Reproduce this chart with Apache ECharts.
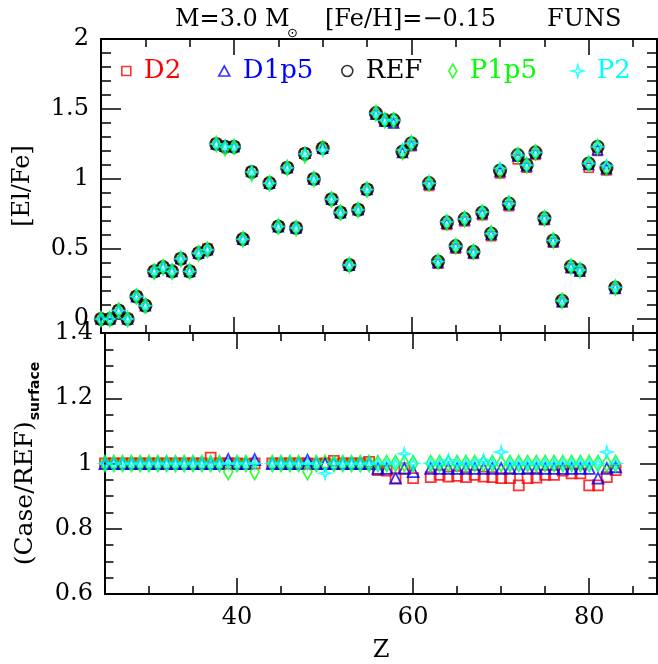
<!DOCTYPE html>
<html>
<head>
<meta charset="utf-8">
<script src="https://cdn.jsdelivr.net/npm/echarts@6/dist/echarts.min.js"></script>
<style>
  html, body { margin: 0; padding: 0; background: #fff; }
  #chart { width: 658px; height: 664px; }
</style>
</head>
<body>
<div id="chart"></div>
<script>
// Atomic numbers (Tc and Pm have no entries)
const Z = [25,26,27,28,29,30,31,32,33,34,35,36,37,38,39,40,41,42,
           44,45,46,47,48,49,50,51,52,53,54,55,56,57,58,59,60,
           62,63,64,65,66,67,68,69,70,71,72,73,74,75,76,77,78,79,80,81,82,83];

// [El/Fe] surface abundances, one array per model case
const elFeREF = [0.00,0.00,0.06,0.00,0.16,0.095,0.34,0.37,0.34,0.43,0.34,0.47,0.495,1.25,1.23,1.23,0.57,1.05,
                 0.97,0.66,1.08,0.65,1.18,1.00,1.22,0.855,0.76,0.385,0.78,0.925,1.47,1.42,1.42,1.195,1.255,
                 0.97,0.41,0.69,0.52,0.715,0.48,0.76,0.61,1.06,0.825,1.17,1.10,1.19,0.72,0.56,0.13,0.375,0.35,1.11,1.23,1.08,0.225];
const elFeD2  = [0.00,0.00,0.06,0.00,0.16,0.095,0.34,0.37,0.34,0.43,0.34,0.47,0.503,1.25,1.23,1.23,0.57,1.05,
                 0.97,0.66,1.08,0.65,1.18,1.00,1.22,0.855,0.76,0.385,0.78,0.927,1.46,1.41,1.40,1.189,1.235,
                 0.951,0.395,0.672,0.503,0.696,0.465,0.742,0.591,1.04,0.805,1.14,1.08,1.171,0.705,0.545,0.12,0.362,0.337,1.08,1.20,1.061,0.216];
const elFeD1p5 = [0.00,0.00,0.06,0.00,0.16,0.095,0.34,0.37,0.34,0.43,0.34,0.47,0.495,1.25,1.235,1.23,0.57,1.055,
                 0.97,0.66,1.08,0.65,1.184,1.00,1.22,0.855,0.76,0.385,0.78,0.925,1.464,1.414,1.40,1.189,1.244,
                 0.964,0.404,0.684,0.514,0.709,0.474,0.754,0.604,1.054,0.819,1.164,1.094,1.184,0.714,0.554,0.124,0.369,0.344,1.104,1.21,1.074,0.219];
const elFeP1p5 = [0.00,0.00,0.06,0.00,0.16,0.095,0.34,0.37,0.34,0.43,0.34,0.47,0.495,1.25,1.219,1.23,0.57,1.039,
                 0.97,0.66,1.08,0.65,1.169,1.00,1.22,0.855,0.76,0.385,0.78,0.925,1.47,1.42,1.42,1.195,1.255,
                 0.97,0.41,0.69,0.52,0.715,0.48,0.76,0.61,1.06,0.825,1.17,1.10,1.19,0.72,0.56,0.13,0.375,0.35,1.11,1.23,1.08,0.225];
const elFeP2  = [0.00,0.00,0.06,0.00,0.16,0.095,0.34,0.37,0.34,0.43,0.34,0.47,0.495,1.25,1.23,1.23,0.57,1.05,
                 0.97,0.66,1.08,0.65,1.18,1.00,1.207,0.855,0.76,0.385,0.78,0.925,1.47,1.42,1.42,1.208,1.255,
                 0.97,0.41,0.694,0.52,0.715,0.48,0.764,0.61,1.075,0.825,1.17,1.10,1.19,0.72,0.56,0.13,0.375,0.35,1.11,1.23,1.095,0.225];

// Case/REF surface ratios
const ratioD2  = [1.00,1.00,1.00,1.00,1.00,1.00,1.00,1.00,1.00,1.00,1.00,1.00,1.018,1.00,1.00,1.00,0.998,1.00,
                  1.00,1.00,1.00,1.00,1.00,0.998,1.00,1.008,1.00,1.00,1.00,1.005,0.98,0.978,0.955,0.985,0.955,
                  0.958,0.965,0.96,0.962,0.958,0.965,0.96,0.958,0.955,0.955,0.933,0.955,0.957,0.965,0.965,0.978,0.97,0.97,0.933,0.933,0.958,0.98];
const ratioD1p5 = [1.00,1.00,1.00,1.00,1.00,1.00,1.00,1.00,1.00,1.00,1.00,1.00,1.00,1.00,1.012,1.00,1.00,1.012,
                  1.00,1.00,1.00,1.00,1.01,1.00,1.00,1.00,1.00,1.00,1.00,1.00,0.985,0.985,0.955,0.985,0.975,
                  0.985,0.985,0.985,0.985,0.985,0.985,0.985,0.985,0.985,0.985,0.985,0.985,0.985,0.985,0.985,0.985,0.985,0.985,0.985,0.955,0.985,0.99];
const ratioP1p5 = [1.00,1.00,1.00,1.00,1.00,1.00,1.00,1.00,1.00,1.00,1.00,1.00,1.00,1.00,0.975,1.00,1.00,0.975,
                  1.00,1.00,1.00,1.00,0.975,1.00,1.00,1.00,1.00,1.00,1.00,1.00,1.00,1.00,1.00,1.00,1.00,
                  1.00,1.00,1.00,1.00,1.00,1.00,1.00,1.00,1.00,1.00,1.00,1.00,1.00,1.00,1.00,1.00,1.00,1.00,1.00,1.00,1.00,1.00];
const ratioP2  = [1.00,1.00,1.00,1.00,1.00,1.00,1.00,1.00,1.00,1.00,1.00,1.00,1.00,1.00,1.00,1.00,1.00,1.00,
                  1.00,1.00,1.00,1.00,1.00,1.00,0.97,1.00,1.00,1.00,1.00,1.00,1.00,1.00,1.00,1.03,1.00,
                  1.00,1.00,1.01,1.00,1.00,1.00,1.01,1.00,1.035,1.00,1.00,1.00,1.00,1.00,1.00,1.00,1.00,1.00,1.00,1.00,1.035,1.00];

// Tick values
const xMajorTicks = [40, 60, 80];
const xMinorTicks = [25, 30, 35, 45, 50, 55, 65, 70, 75, 85];
const topMajorTicks = [0, 0.5, 1, 1.5, 2];
const topMinorTicks = [-0.1,0.1,0.2,0.3,0.4,0.6,0.7,0.8,0.9,1.1,1.2,1.3,1.4,1.6,1.7,1.8,1.9];
const botMajorTicks = [0.6, 0.8, 1, 1.2, 1.4];
const botMinorTicks = [0.65,0.7,0.75,0.85,0.9,0.95,1.05,1.1,1.15,1.25,1.3,1.35];

const SERIF = "'DejaVu Serif', serif";
const STAR = 'path://M0,-10 L2.2,-2.2 L10,0 L2.2,2.2 L0,10 L-2.2,2.2 L-10,0 L-2.2,-2.2 Z';
const NARROW_DIAMOND = 'path://M0,-7 L4,0 L0,7 L-4,0 Z';

const cases = [
  { name: 'D2',   color: '#ff0000', symbol: 'rect',     sizeTop: 9,      sizeBot: 10,     bw: 1.6, top: elFeD2,   ratio: ratioD2,
    legendIcon: 'rect', legendW: 9, legendH: 9, legendLeft: 121 },
  { name: 'D1p5', color: '#0000ff', symbol: 'triangle', sizeTop: 10,     sizeBot: 11,     bw: 1.6, top: elFeD1p5, ratio: ratioD1p5,
    legendIcon: 'triangle', legendW: 11, legendH: 10, legendLeft: 218 },
  { name: 'REF',  color: '#000000', symbol: 'circle',   sizeTop: 12,     sizeBot: 12,     bw: 2.2, top: elFeREF,  ratio: null,
    legendIcon: 'circle', legendW: 11, legendH: 11, legendLeft: 341 },
  { name: 'P1p5', color: '#00ff00', symbol: 'diamond',  sizeTop: [8,15], sizeBot: [9,16], bw: 1.8, top: elFeP1p5, ratio: ratioP1p5,
    legendIcon: NARROW_DIAMOND, legendW: 8, legendH: 14, legendLeft: 448 },
  { name: 'P2',   color: '#00ffff', symbol: STAR,       sizeTop: 11,     sizeBot: 11,     bw: 1.6, top: elFeP2,   ratio: ratioP2,
    legendIcon: STAR, legendW: 12, legendH: 12, legendLeft: 571 }
];

const X_MIN = 25, X_MAX = 87.7;

function xAxisDef(grid, position, ticks, len, showLabel) {
  return {
    type: 'value', gridIndex: grid, position: position, min: X_MIN, max: X_MAX,
    axisLine: { show: true, onZero: false, lineStyle: { color: '#000', width: 2 } },
    axisTick: { show: true, inside: true, length: len, customValues: ticks, lineStyle: { color: '#000', width: 1.5 } },
    axisLabel: { show: showLabel, customValues: ticks, margin: 12, color: '#000', fontFamily: SERIF, fontSize: 24 },
    splitLine: { show: false }
  };
}
function yAxisDef(grid, position, min, max, ticks, len, showLabel) {
  return {
    type: 'value', gridIndex: grid, position: position, min: min, max: max,
    axisLine: { show: true, onZero: false, lineStyle: { color: '#000', width: 2 } },
    axisTick: { show: true, inside: true, length: len, customValues: ticks, lineStyle: { color: '#000', width: 1.5 } },
    axisLabel: { show: showLabel, customValues: ticks, margin: 12, color: '#000', fontFamily: SERIF, fontSize: 24,
                 formatter: v => String(+v.toFixed(2)) },
    splitLine: { show: false }
  };
}

const xAxes = [
  xAxisDef(0, 'bottom', xMajorTicks, 16, false),
  xAxisDef(0, 'bottom', xMinorTicks, 8, false),
  xAxisDef(0, 'top', xMajorTicks, 16, false),
  xAxisDef(0, 'top', xMinorTicks, 8, false),
  xAxisDef(1, 'bottom', xMajorTicks, 16, true),
  xAxisDef(1, 'bottom', xMinorTicks, 8, false),
  xAxisDef(1, 'top', xMajorTicks, 16, false),
  xAxisDef(1, 'top', xMinorTicks, 8, false)
];
xAxes[4].name = 'Z';
xAxes[4].nameLocation = 'middle';
xAxes[4].nameGap = 45;
xAxes[4].nameTextStyle = { color: '#000', fontFamily: SERIF, fontSize: 24 };

const yAxes = [
  yAxisDef(0, 'left', -0.1, 2, topMajorTicks, 20, true),
  yAxisDef(0, 'left', -0.1, 2, topMinorTicks, 10, false),
  yAxisDef(0, 'right', -0.1, 2, topMajorTicks, 20, false),
  yAxisDef(0, 'right', -0.1, 2, topMinorTicks, 10, false),
  yAxisDef(1, 'left', 0.6, 1.4, botMajorTicks, 17, true),
  yAxisDef(1, 'left', 0.6, 1.4, botMinorTicks, 8.5, false),
  yAxisDef(1, 'right', 0.6, 1.4, botMajorTicks, 17, false),
  yAxisDef(1, 'right', 0.6, 1.4, botMinorTicks, 8.5, false)
];
yAxes[0].name = '[El/Fe]';
yAxes[0].nameLocation = 'middle';
yAxes[0].nameRotate = 90;
yAxes[0].nameGap = 66;
yAxes[0].nameTextStyle = { color: '#000', fontFamily: SERIF, fontSize: 24 };
yAxes[4].name = '{a|(Case/REF)}{s|surface}';
yAxes[4].nameLocation = 'middle';
yAxes[4].nameRotate = 90;
yAxes[4].nameGap = 62;
yAxes[4].nameTextStyle = {
  color: '#000', fontFamily: SERIF, fontSize: 25,
  rich: {
    a: { fontFamily: SERIF, fontSize: 25, color: '#000', lineHeight: 36 },
    s: { fontFamily: "'DejaVu Sans', sans-serif", fontWeight: 'bold', fontSize: 14, color: '#000',
         lineHeight: 16, padding: [20, 0, 0, 1] }
  }
};

const series = [];
cases.forEach(c => {
  series.push({
    name: c.name, type: 'scatter', xAxisIndex: 0, yAxisIndex: 0,
    symbol: c.symbol, symbolSize: c.sizeTop,
    itemStyle: { color: 'rgba(0,0,0,0)', borderColor: c.color, borderWidth: c.bw },
    data: Z.map((z, i) => [z, c.top[i]])
  });
});
cases.forEach(c => {
  if (!c.ratio) return;
  series.push({
    name: c.name, type: 'scatter', xAxisIndex: 4, yAxisIndex: 4,
    symbol: c.symbol, symbolSize: c.sizeBot,
    itemStyle: { color: 'rgba(0,0,0,0)', borderColor: c.color, borderWidth: 1.8 },
    data: Z.map((z, i) => [z, c.ratio[i]])
  });
});

// One legend block per case so each entry sits at its own spot
const legends = cases.map(c => ({
  left: c.legendLeft, top: 58, padding: 0,
  itemWidth: c.legendW, itemHeight: c.legendH, selectedMode: false,
  textStyle: { fontFamily: SERIF, fontSize: 26, color: c.color, padding: [0, 0, 0, 8] },
  data: [{ name: c.name, icon: c.legendIcon,
           itemStyle: { color: 'rgba(0,0,0,0)', borderColor: c.color, borderWidth: 1.6 } }]
}));

const titleFont = { fontFamily: SERIF, fontSize: 24, fontWeight: 'normal', color: '#000', lineHeight: 40 };
const option = {
  animation: false,
  backgroundColor: '#fff',
  title: {
    text: '{a|M=3.0}{b|M}{s|⊙}{c|[Fe/H]=−0.15}{d|FUNS}',
    left: 175, top: 0, padding: 0,
    textStyle: {
      fontWeight: 'normal',
      rich: {
        a: Object.assign({ width: 90 }, titleFont),
        b: Object.assign({ width: 22 }, titleFont),
        s: { fontFamily: "'DejaVu Sans', sans-serif", fontSize: 13, fontWeight: 'normal', color: '#000', lineHeight: 12,
             padding: [27, 0, 0, 0], width: 38 },
        c: Object.assign({ width: 222 }, titleFont),
        d: Object.assign({}, titleFont)
      }
    }
  },
  legend: legends,
  grid: [
    { left: 101, top: 39, width: 556, height: 294 },
    { left: 101, top: 333, width: 556, height: 263 }
  ],
  xAxis: xAxes,
  yAxis: yAxes,
  series: series
};

const chart = echarts.init(document.getElementById('chart'), null, { renderer: 'canvas' });
chart.setOption(option);
</script>
</body>
</html>
